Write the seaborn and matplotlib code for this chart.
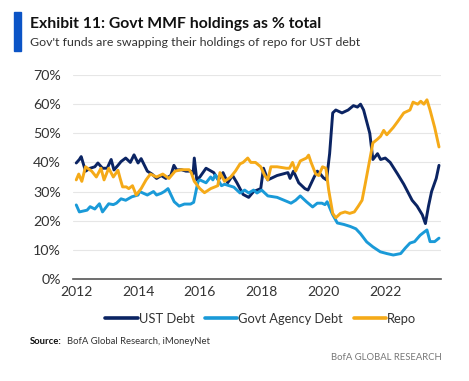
import numpy as np
import pandas as pd
import matplotlib
matplotlib.use("Agg")
import matplotlib.pyplot as plt
import seaborn as sns
from matplotlib.lines import Line2D

# ---------------- data ----------------
ust_x = [2012.0, 2012.1, 2012.16, 2012.3, 2012.45, 2012.6, 2012.7, 2012.85, 2013.0, 2013.13,
         2013.22, 2013.35, 2013.45, 2013.6, 2013.75, 2013.87, 2014.0, 2014.1, 2014.3, 2014.45,
         2014.6, 2014.75, 2014.9, 2015.06, 2015.16, 2015.25, 2015.4, 2015.55, 2015.7, 2015.78,
         2015.82, 2015.9, 2016.0, 2016.2, 2016.45, 2016.6, 2016.75, 2016.9, 2017.06, 2017.2,
         2017.4, 2017.58, 2017.74, 2017.97, 2018.06, 2018.2, 2018.5, 2018.85, 2018.92, 2019.03,
         2019.2, 2019.4, 2019.5, 2019.7, 2019.8, 2019.9, 2020.0, 2020.1, 2020.2, 2020.3,
         2020.4, 2020.6, 2020.8, 2020.97, 2021.1, 2021.2, 2021.3, 2021.5, 2021.6, 2021.75,
         2021.85, 2022.0, 2022.16, 2022.4, 2022.6, 2022.87, 2023.03, 2023.2, 2023.3, 2023.4,
         2023.5, 2023.65, 2023.74]
ust_y = [39.8, 41, 42, 37, 38, 38.5, 39.8, 38, 38, 41,
         37.4, 39, 40.3, 41.5, 40, 42.6, 39.8, 41.3, 37, 36,
         34.5, 35.5, 34.5, 35.5, 39, 37.4, 37.5, 37, 37, 36,
         41.5, 34, 35, 38, 36.5, 34, 36.5, 33, 35.5, 33,
         29, 28, 30, 31, 38, 34, 35.5, 36.5, 34.5, 37,
         33, 31, 30.5, 35, 37, 36, 34.7, 34, 43, 57,
         58, 57, 58, 59.5, 59, 60, 58, 50, 41, 43,
         41, 41.5, 40, 36, 32.5, 27, 25, 22, 19, 25,
         30, 34.5, 39]

agency_x = [2012.0, 2012.1, 2012.35, 2012.45, 2012.6, 2012.75, 2012.85, 2013.05, 2013.2, 2013.3,
            2013.45, 2013.6, 2013.8, 2014.0, 2014.05, 2014.3, 2014.5, 2014.6, 2014.75, 2014.85,
            2014.97, 2015.17, 2015.33, 2015.5, 2015.7, 2015.8, 2015.94, 2016.0, 2016.2, 2016.35,
            2016.42, 2016.5, 2016.7, 2016.8, 2016.95, 2017.1, 2017.3, 2017.45, 2017.58, 2017.74,
            2017.85, 2018.0, 2018.2, 2018.5, 2018.84, 2018.95, 2019.1, 2019.25, 2019.45, 2019.65,
            2019.8, 2019.95, 2020.05, 2020.12, 2020.29, 2020.45, 2020.66, 2020.87, 2021.05, 2021.2,
            2021.4, 2021.6, 2021.84, 2022.05, 2022.26, 2022.5, 2022.65, 2022.8, 2022.95, 2023.13,
            2023.25, 2023.35, 2023.45, 2023.6, 2023.74]
agency_y = [25.4, 23, 23.6, 24.8, 24, 25.8, 23, 25.8, 25.5, 26,
            27.5, 27, 28.2, 28.8, 30, 28.8, 30, 28.8, 29.4, 30,
            31, 26.5, 25, 25.7, 25.7, 26.3, 33.4, 34, 33, 35,
            34, 35.7, 32, 32.5, 32, 31.5, 29.5, 30.5, 29.5, 30.5,
            29.5, 30.5, 28.5, 28, 26.5, 26, 27, 28.5, 26.5, 24.7,
            26, 26, 25.5, 26.5, 22.2, 19.2, 18.7, 18, 17.2, 15.5,
            12.7, 11, 9.3, 8.7, 8.2, 8.7, 10.6, 12.3, 12.8, 15,
            16, 16.8, 12.8, 12.8, 14]

repo_x = [2012.0, 2012.08, 2012.18, 2012.3, 2012.5, 2012.65, 2012.8, 2012.9, 2013.05, 2013.2,
          2013.35, 2013.42, 2013.5, 2013.62, 2013.7, 2013.82, 2013.94, 2014.1, 2014.26, 2014.4,
          2014.6, 2014.8, 2015.0, 2015.2, 2015.4, 2015.65, 2015.72, 2015.82, 2016.0, 2016.15,
          2016.35, 2016.58, 2016.65, 2016.8, 2017.0, 2017.15, 2017.3, 2017.4, 2017.55, 2017.65,
          2017.8, 2017.97, 2018.1, 2018.2, 2018.3, 2018.5, 2018.8, 2018.9, 2019.0, 2019.1,
          2019.25, 2019.45, 2019.52, 2019.6, 2019.75, 2019.85, 2019.97, 2020.08, 2020.17, 2020.3,
          2020.4, 2020.55, 2020.7, 2020.85, 2021.0, 2021.13, 2021.25, 2021.35, 2021.5, 2021.6,
          2021.75, 2021.85, 2021.95, 2022.05, 2022.26, 2022.4, 2022.6, 2022.8, 2022.9, 2023.05,
          2023.15, 2023.25, 2023.35, 2023.45, 2023.6, 2023.74]
repo_y = [34, 36, 33.5, 38.5, 37, 35, 38, 34, 38, 35,
          37.3, 34.5, 31.6, 31.6, 31, 32, 28.8, 31, 34, 36,
          35, 36, 34.5, 37, 37.5, 37.5, 36.5, 33.5, 31, 29.6,
          31, 32, 36.5, 33.5, 35, 37, 39.5, 40, 41.5, 40,
          40, 38.5, 35.5, 34, 38.5, 38.5, 38, 38, 40, 37,
          40.5, 41.5, 42.5, 40, 36, 35.5, 38.5, 38, 30.5, 22.5,
          21, 22.5, 23, 22.5, 23, 25, 27, 32.5, 41, 46.7,
          48, 49, 51, 49.5, 52, 54, 57, 58, 60.7, 60,
          61, 60, 61.5, 58, 52, 45.3]

series_names = ["UST Debt", "Govt Agency Debt", "Repo"]
x_ticks = [2012, 2014, 2016, 2018, 2020, 2022]
y_ticks = [0, 10, 20, 30, 40, 50, 60, 70]

# ---------------- build long table ----------------
frames = []
for name, xs, ys in zip(series_names, [ust_x, agency_x, repo_x], [ust_y, agency_y, repo_y]):
    frames.append(pd.DataFrame({"year": xs, "value": ys, "series": name}))
df = pd.concat(frames, ignore_index=True)

colors = {"UST Debt": "#0b2463", "Govt Agency Debt": "#1a9ad8", "Repo": "#f5aa18"}

sns.set_theme(style="white")
plt.rcParams["font.family"] = ["Lato", "DejaVu Sans"]

fig = plt.figure(figsize=(4.69, 3.81), dpi=100)
ax = fig.add_axes([0.156, 0.268, 0.784, 0.535])

sns.lineplot(data=df, x="year", y="value", hue="series", hue_order=series_names,
             palette=colors, linewidth=2.1, legend=False, ax=ax, sort=False,
             estimator=None)

ax.set_xlim(2011.9, 2023.8)
ax.set_ylim(0, 70)
ax.set_xticks(x_ticks)
ax.set_xticklabels([str(t) for t in x_ticks])
ax.set_yticks(y_ticks)
ax.set_yticklabels([f"{t}%" for t in y_ticks])
ax.set_xlabel("")
ax.set_ylabel("")
for y in y_ticks[1:]:
    ax.axhline(y, color="#e6e6e6", lw=0.8, zorder=0)
for s in ["top", "right", "left"]:
    ax.spines[s].set_visible(False)
ax.spines["bottom"].set_color("#555555")
ax.spines["bottom"].set_linewidth(1.2)
ax.tick_params(axis="both", length=0, labelsize=10, colors="#333333", pad=5)
ax.tick_params(axis="y", labelsize=10.3, pad=9)

handles = [Line2D([0], [0], color=colors[n], lw=2.6) for n in series_names]
fig.legend(handles, series_names, loc="center", bbox_to_anchor=(0.556, 0.163), ncol=3,
           frameon=False, fontsize=9.3, handlelength=2.5, handletextpad=0.1,
           columnspacing=0.8, labelcolor="#333333")

# title block
fig.patches.append(plt.Rectangle((14 / 469, 1 - 51 / 381), 7 / 469, 39 / 381,
                                 transform=fig.transFigure, color="#0b54c6", zorder=5))
fig.text(30 / 469, 1 - 24 / 381, "Exhibit 11: Govt MMF holdings as % total",
         fontsize=11.3, fontweight="bold", color="#111111", va="center", ha="left")
fig.text(30 / 469, 1 - 42 / 381, "Gov't funds are swapping their holdings of repo for UST debt",
         fontsize=8.9, color="#333333", va="center", ha="left")

fig.text(30 / 469, 1 - 342 / 381, "Source:", fontsize=6.8, fontweight="bold",
         color="#111111", va="center", ha="left")
fig.text(67 / 469, 1 - 342 / 381, "BofA Global Research, iMoneyNet", fontsize=6.8,
         color="#333333", va="center", ha="left")
fig.text(442 / 469, 1 - 357 / 381, "BofA GLOBAL RESEARCH", fontsize=6.8,
         color="#777777", va="center", ha="right")

fig.savefig("out.png", dpi=100)
